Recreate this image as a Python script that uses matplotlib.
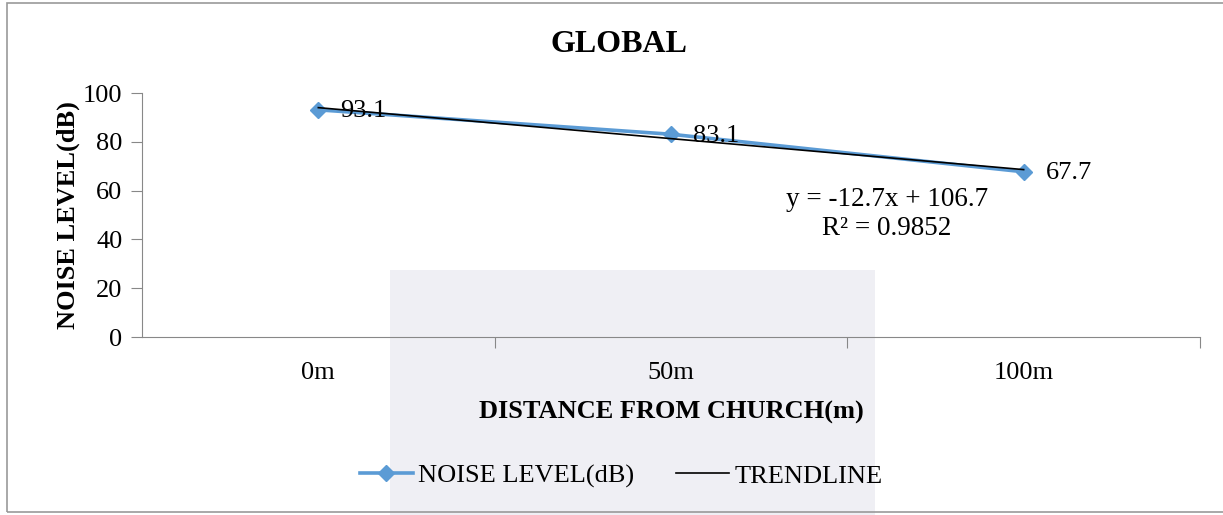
import numpy as np
import matplotlib.pyplot as plt
from matplotlib.patches import Rectangle

# Noise readings at distances from the church
distances = ['0m', '50m', '100m']
noise_db = [93.1, 83.1, 67.7]

# Linear trendline (Excel style, x = 1, 2, 3)
slope, intercept = -12.7, 106.7
r_squared = 0.9852

plt.rcParams['font.family'] = ['Liberation Serif', 'DejaVu Serif']

fig = plt.figure(figsize=(12.23, 5.15), dpi=100)

# faint background block behind the plot
fig.patches.append(Rectangle((390 / 1223, 0), 485 / 1223, 245 / 515,
                             transform=fig.transFigure, facecolor='#efeff4',
                             edgecolor='none', zorder=-10))
# outer chart border (right edge runs off the canvas)
fig.patches.append(Rectangle((7 / 1223, 3 / 515), 1230 / 1223, 509 / 515,
                             transform=fig.transFigure, facecolor='none',
                             edgecolor='#999999', linewidth=1.2, zorder=5))

ax = fig.add_axes([142 / 1223, 1 - 337 / 515, 1058 / 1223, 244 / 515])
ax.set_facecolor('none')

x = np.arange(1, len(distances) + 1)
ax.plot(x, noise_db, color='#5B9BD5', linewidth=2.6, marker='D',
        markersize=8, label='NOISE LEVEL(dB)', zorder=3)

trend = slope * x + intercept
ax.plot(x, trend, color='black', linewidth=1.2, label='TRENDLINE', zorder=4)

for xi, v in zip(x, noise_db):
    ax.annotate(f'{v}', (xi, v), xytext=(16, -1), textcoords='offset points',
                ha='left', va='center', fontsize=19)

ax.text(2.612, 61.5, f'y = {slope}x + {intercept}\nR² = {r_squared}',
        ha='center', va='top', fontsize=19.5, linespacing=1.22)

ax.set_xlim(0.5, 3.5)
ax.set_ylim(0, 100)
ax.set_yticks(np.arange(0, 101, 20))
ax.set_xticks([1.5, 2.5, 3.5], minor=False)
ax.set_xticklabels([])
ax.set_xticks(x, minor=True)
ax.set_xticklabels(distances, minor=True)
ax.tick_params(axis='x', which='minor', length=0, pad=18, labelsize=19)
ax.tick_params(axis='x', which='major', length=8, color='#888888')
ax.tick_params(axis='y', length=8, color='#888888', labelsize=19, pad=6)

for side in ['top', 'right']:
    ax.spines[side].set_visible(False)
for side in ['left', 'bottom']:
    ax.spines[side].set_color('#888888')

fig.text(619 / 1223, 1 - 44 / 515, 'GLOBAL', fontsize=23, fontweight='bold',
         ha='center', va='center')
ax.set_xlabel('DISTANCE FROM CHURCH(m)', fontsize=19, fontweight='bold', labelpad=12)
ax.set_ylabel('NOISE LEVEL(dB)', fontsize=19, fontweight='bold', labelpad=2)

ax.legend(loc='center', bbox_to_anchor=(0.453, -0.57), ncol=2, frameon=False,
          fontsize=19, handlelength=2.0, columnspacing=1.6, handletextpad=0.2)

plt.savefig('out.png', dpi=100)
